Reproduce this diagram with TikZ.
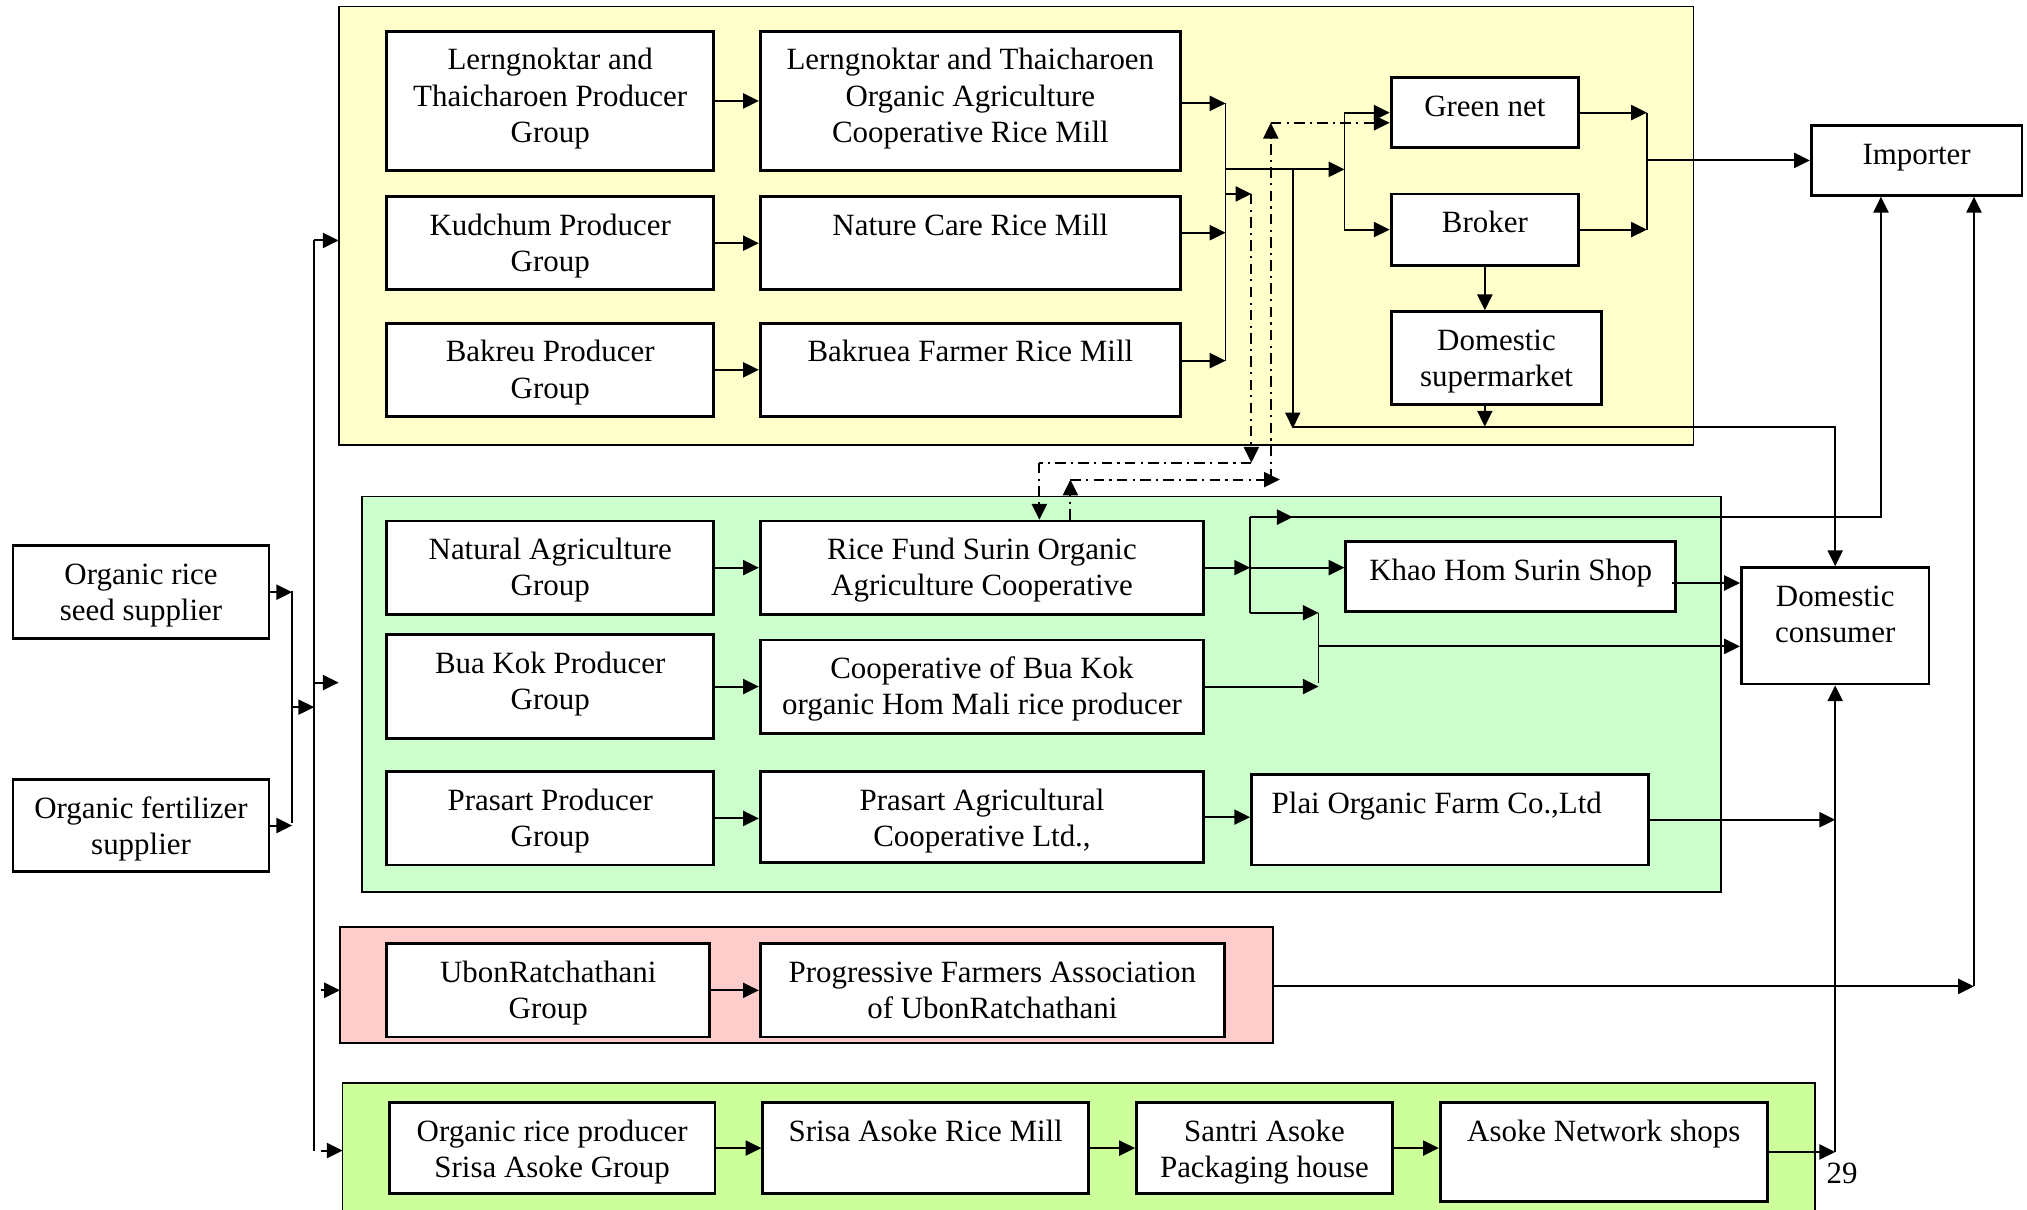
\documentclass[tikz,border=0pt]{standalone}
\usepackage{fontspec}
\setmainfont{Liberation Serif}
\usetikzlibrary{arrows.meta}

\definecolor{bgyellow}{HTML}{FFFFCC}
\definecolor{bggreen}{HTML}{CCFFCC}
\definecolor{bgpink}{HTML}{FFCCCC}
\definecolor{bglime}{HTML}{CCFF99}

\newlength{\du}
\setlength{\du}{0.3678pt}
\newcommand{\bx}[3]{\parbox[c][#2\du][t]{#1\du}{\centering\rule{0pt}{11pt}#3}}

\begin{document}
\begin{tikzpicture}[x=0.012927cm, y=-0.012927cm,
    font=\fontsize{8.8}{10.3}\selectfont,
    box/.style={draw, fill=white, line width=0.8pt, inner sep=0pt, anchor=north west},
    area/.style={draw, line width=0.5pt},
    arr/.style={-{Triangle[length=4.5pt,width=4.3pt]}, line width=0.55pt},
    dd/.style={dash pattern=on 3pt off 1.5pt on 0.6pt off 1.5pt}]
    \useasboundingbox (0,0) rectangle (1568,936);

    % group areas
    \draw[area, fill=bgyellow] (262,5) rectangle (1310,344);
    \draw[area, fill=bggreen] (280,384) rectangle (1331,690);
    \draw[area, fill=bgpink] (263,717) rectangle (985,807);
    \draw[area, fill=bglime] (265,838) rectangle (1404,945);

    % suppliers
    \node[box] (seed) at (9,421) {\bx{198}{72}{Organic rice\\seed supplier}};
    \node[box] (fert) at (9,602) {\bx{198}{71}{Organic fertilizer\\supplier}};

    % yellow group
    \node[box] (ltprod) at (298,23) {\bx{253}{108}{Lerngnoktar and\\Thaicharoen Producer\\Group}};
    \node[box] (ltmill) at (587,23) {\bx{325}{108}{Lerngnoktar and Thaicharoen\\Organic Agriculture\\Cooperative Rice Mill}};
    \node[box] (kud) at (298,151) {\bx{253}{72}{Kudchum Producer\\Group}};
    \node[box] (nature) at (587,151) {\bx{325}{72}{Nature Care Rice Mill}};
    \node[box] (bak) at (298,249) {\bx{253}{72}{Bakreu Producer\\Group}};
    \node[box] (bakmill) at (587,249) {\bx{325}{72}{Bakruea Farmer Rice Mill}};
    \node[box] (greennet) at (1075,59) {\bx{145}{54}{Green net}};
    \node[box] (broker) at (1075,149) {\bx{145}{55}{Broker}};
    \node[box] (superm) at (1075,240) {\bx{163}{72}{Domestic\\supermarket}};
    \node[box] (importer) at (1400,96) {\bx{163}{54}{Importer}};

    % green group
    \node[box] (natural) at (298,402) {\bx{253}{72}{Natural Agriculture\\Group}};
    \node[box] (ricefund) at (587,402) {\bx{343}{72}{Rice Fund Surin Organic\\Agriculture Cooperative}};
    \node[box] (khaohom) at (1040,418) {\bx{255}{54}{Khao Hom Surin Shop}};
    \node[box] (buakok) at (298,490) {\bx{253}{80}{Bua Kok Producer\\Group}};
    \node[box] (coopbk) at (587,494) {\bx{343}{72}{Cooperative of Bua Kok\\organic Hom Mali rice producer}};
    \node[box] (prasart) at (298,596) {\bx{253}{72}{Prasart Producer\\Group}};
    \node[box] (prasartag) at (587,596) {\bx{343}{70}{Prasart Agricultural\\Cooperative Ltd.,}};
    \node[box] (plai) at (967,598) {\bx{307}{70}{Plai Organic Farm Co.,Ltd\hspace*{0.85em}}};
    \node[box] (domcons) at (1346,438) {\bx{145}{90}{Domestic\\consumer}};

    % pink group
    \node[box] (ubon) at (298,729) {\bx{250}{72}{UbonRatchathani\\Group}};
    \node[box] (progf) at (587,729) {\bx{359}{72}{Progressive Farmers Association\\of UbonRatchathani}};

    % lime group
    \node[box] (srisa) at (300,852) {\bx{252}{70}{Organic rice producer\\Srisa Asoke Group}};
    \node[box] (srisamill) at (589,852) {\bx{252}{70}{Srisa Asoke Rice Mill}};
    \node[box] (santri) at (878,852) {\bx{198}{70}{Santri Asoke\\Packaging house}};
    \node[box] (asoke) at (1113,852) {\bx{253}{76}{Asoke Network shops}};
    \node (pg) at (1425,908) {29};

    % junction points
    \coordinate (l1) at (226,457);
    \coordinate (l2) at (226,637);
    \coordinate (l0) at (226,547);
    \coordinate (k0) at (243,547);
    \coordinate (k1) at (243,186);
    \coordinate (k2) at (243,528);
    \coordinate (k3) at (248,766);
    \coordinate (k4) at (248,890);
    \coordinate (k5) at (243,890);
    \coordinate (m1) at (948,80);
    \coordinate (m2) at (948,180);
    \coordinate (m3) at (948,279);
    \coordinate (g1) at (1040,131);
    \coordinate (d1) at (1000,330);
    \coordinate (r1) at (1274,83);
    \coordinate (p1) at (968,150);
    \coordinate (p2) at (968,358);
    \coordinate (p3) at (804,358);
    \coordinate (q1) at (828,371);
    \coordinate (q2) at (990,371);
    \coordinate (q4) at (983,371);
    \coordinate (q3) at (983,95);
    \coordinate (s1) at (967,438);
    \coordinate (s2) at (967,400);
    \coordinate (s3) at (967,474);
    \coordinate (s4) at (1455,400);
    \coordinate (t1) at (1020,474);
    \coordinate (t2) at (1020,528);
    \coordinate (t3) at (1020,500);
    \coordinate (u0) at (985,763);
    \coordinate (u1) at (1527,763);
    \coordinate (v1) at (domcons.south |- asoke.east);
    \coordinate (w1) at (1293,451); %shop exit

    % inputs
    \draw[arr] (seed.east) -- (seed.east -| l1);
    \draw[arr] (fert.east) -- (fert.east -| l2);
    \draw (l1) -- (l2);
    \draw[arr] (l0) -- (k0);
    \draw (k1) -- (k5);
    \draw[arr] (k1) -- ++(19,0);
    \draw[arr] (k2) -- ++(19,0);
    \draw[arr] (k3) -- ++(15,0);
    \draw[arr] (k4) -- ++(17,0);

    % yellow flows
    \draw[arr] (ltprod.east) -- (ltprod.east -| ltmill.west);
    \draw[arr] (kud.east) -- (kud.east -| nature.west);
    \draw[arr] (bak.east) -- (bak.east -| bakmill.west);
    \draw[arr] (ltmill.east |- m1) -- (m1);
    \draw[arr] (nature.east |- m2) -- (m2);
    \draw[arr] (bakmill.east |- m3) -- (m3);
    \draw (m1) -- (m3);
    \draw[arr] (m1 |- g1) -- (g1);
    \draw (greennet.west -| g1) -- (broker.west -| g1);
    \draw[arr] (greennet.west -| g1) -- (greennet.west);
    \draw[arr] (broker.west -| g1) -- (broker.west);
    \draw[arr] (d1 |- g1) -- ([yshift=-0.5pt]d1);
    \draw[arr] (broker.south) -- (broker.south |- superm.north);
    \draw[arr] (broker.south |- superm.south) -- (broker.south |- d1);
    \draw[arr] (d1) -| (domcons.north);
    \draw[arr] (greennet.east) -- (greennet.east -| r1);
    \draw[arr] (broker.east) -- (broker.east -| r1);
    \draw (greennet.east -| r1) -- (broker.east -| r1);
    \draw[arr] (importer.west -| r1) -- (importer.west);

    % dash-dot links
    \draw[arr, dd] (m1 |- p1) -- (p1);
    \draw[arr, dd] (p1) -- (p2);
    \draw[dd] (p2) -- (p3);
    \draw[arr, dd] (p3) -- (p3 |- ricefund.north);
    \draw[arr, dd] (q1 |- ricefund.north) -- (q1);
    \draw[arr, dd] (q1) -- (q2);
    \draw[arr, dd] (q4) -- (q3);
    \draw[arr, dd] (q3) -- (q3 -| greennet.west);

    % green flows
    \draw[arr] (natural.east) -- (natural.east -| ricefund.west);
    \draw[arr] (buakok.east) -- (buakok.east -| coopbk.west);
    \draw[arr] (prasart.east) -- (prasart.east -| prasartag.west);
    \draw[arr] (prasartag.east) -- (prasartag.east -| plai.west);
    \draw[arr] (ricefund.east) -- (ricefund.east -| s1);
    \draw[arr] (ricefund.east -| s1) -- (ricefund.east -| khaohom.west);
    \draw (s2) -- (s3);
    \draw[arr] (s2) -- ++(33,0);
    \draw[arr] (s2) -- (s4) -- (s4 |- importer.south);
    \draw[arr] (s3) -- (t1);
    \draw[arr] (coopbk.east) -- (coopbk.east -| t1);
    \draw (t1) -- (t2);
    \draw[arr] (t3) -- (t3 -| domcons.west);
    \draw[arr] (w1) -- (w1 -| domcons.west);
    \draw[arr] (plai.east) -- (plai.east -| v1);
    \draw[arr] (v1) -- (domcons.south);

    % pink flows
    \draw[arr] (ubon.east) -- (ubon.east -| progf.west);
    \draw[arr] (u0) -- (u1);
    \draw[arr] (u1) -- (u1 |- importer.south);

    % lime flows
    \draw[arr] (srisa.east) -- (srisa.east -| srisamill.west);
    \draw[arr] (srisamill.east) -- (srisamill.east -| santri.west);
    \draw[arr] (santri.east) -- (santri.east -| asoke.west);
    \draw[arr] (asoke.east) -- (v1);
\end{tikzpicture}
\end{document}
